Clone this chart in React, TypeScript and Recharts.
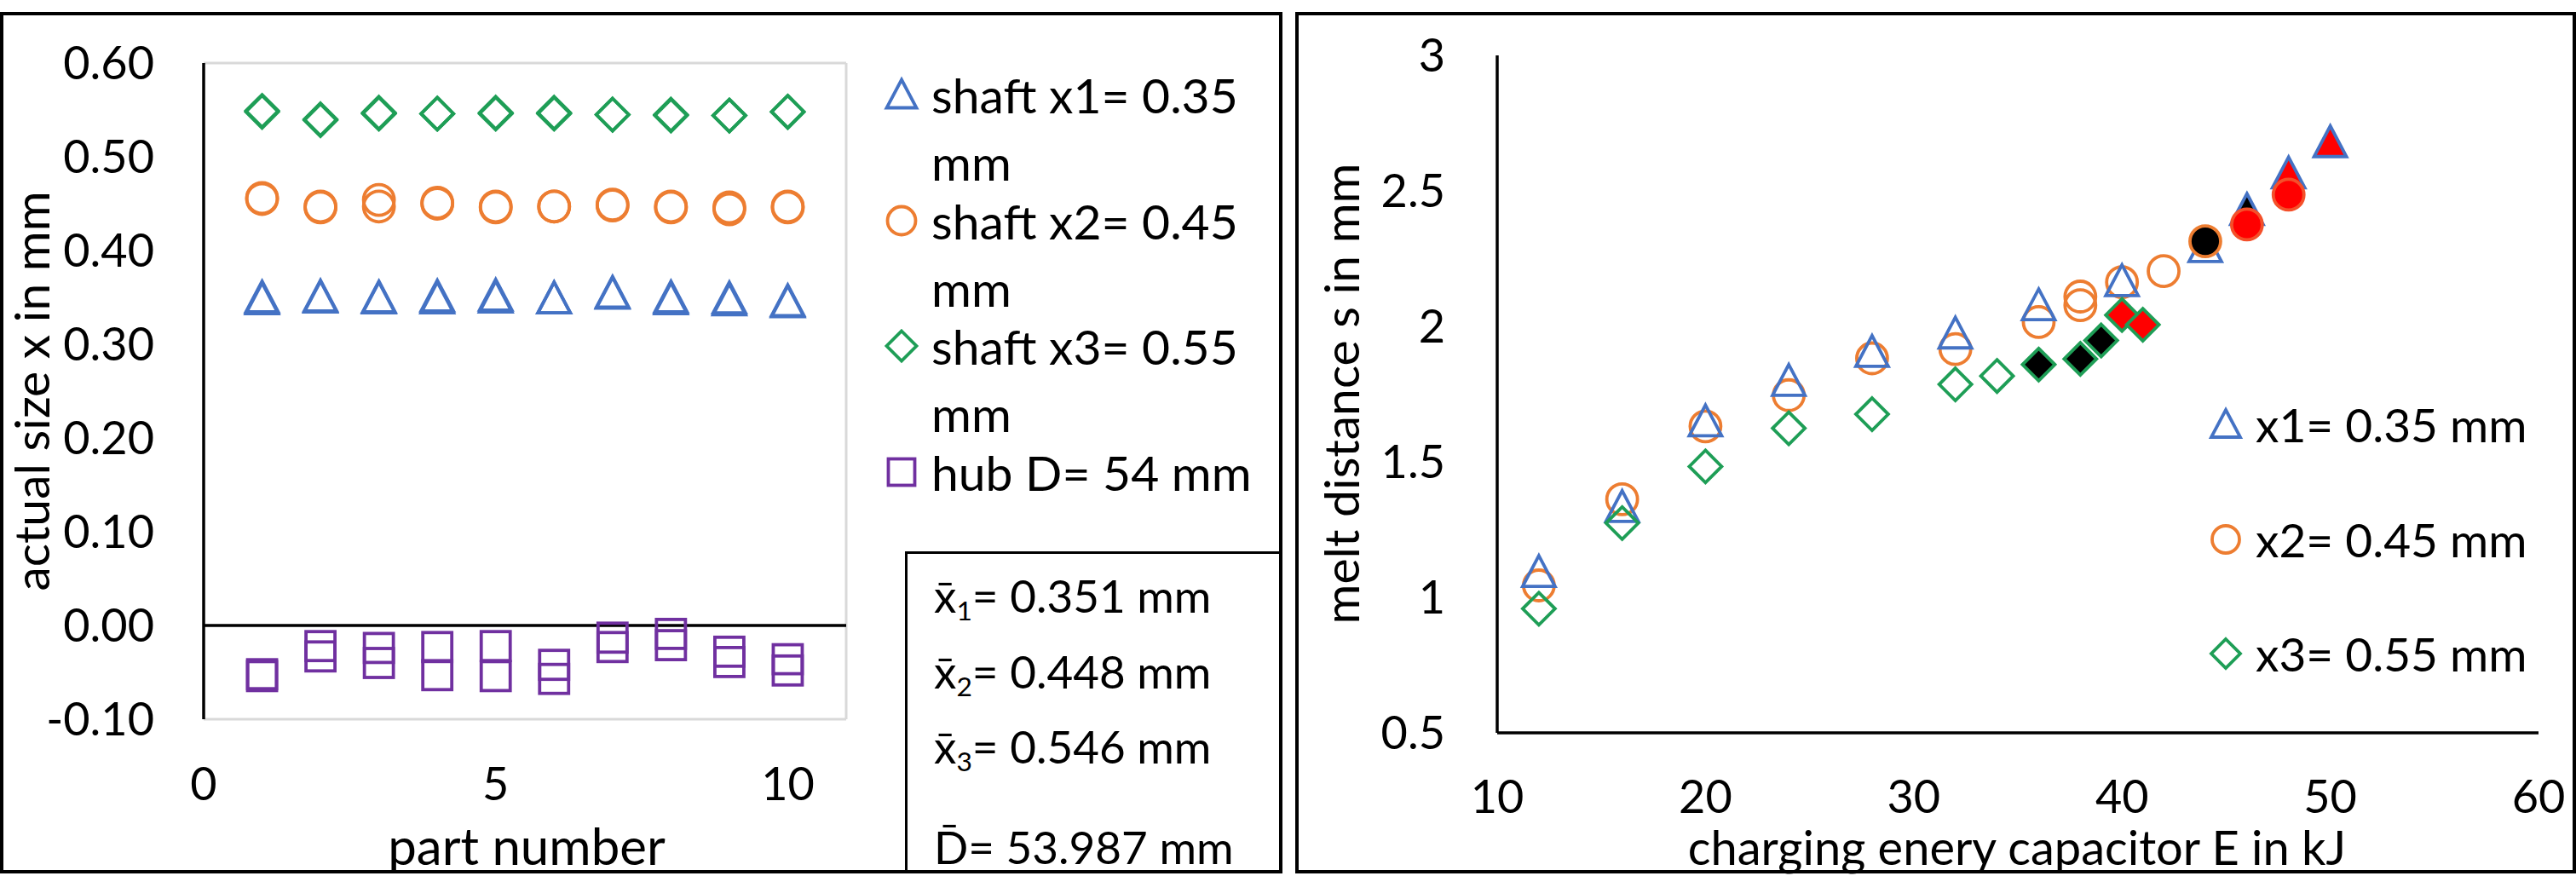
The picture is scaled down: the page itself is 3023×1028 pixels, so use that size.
import React from 'react'
import { ScatterChart, Scatter, XAxis, YAxis, ReferenceLine } from 'recharts'

const FONT = 'Lato, "Open Sans", sans-serif'
const BLUE = '#4472c4'
const ORANGE = '#ed7d31'
const GREEN = '#1e9e56'
const PURPLE = '#7030a0'
const RED = '#ff0000'
const BLACK = '#000000'

// left chart: actual size per part number, two readings per part
const partNumbers = [1, 2, 3, 4, 5, 6, 7, 8, 9, 10]
const shaftX1A = [0.350, 0.351, 0.350, 0.351, 0.352, 0.349, 0.355, 0.350, 0.349, 0.346]
const shaftX1B = [0.348, 0.350, 0.349, 0.349, 0.350, 0.349, 0.354, 0.348, 0.347, 0.345]
const shaftX2A = [0.456, 0.447, 0.454, 0.451, 0.447, 0.447, 0.449, 0.447, 0.446, 0.447]
const shaftX2B = [0.455, 0.446, 0.447, 0.450, 0.446, 0.447, 0.448, 0.446, 0.444, 0.446]
const shaftX3A = [0.549, 0.540, 0.547, 0.546, 0.547, 0.547, 0.545, 0.545, 0.544, 0.548]
const shaftX3B = [0.548, 0.539, 0.546, 0.546, 0.546, 0.546, 0.545, 0.544, 0.544, 0.548]
// hub: deviation from D = 54 mm
const hubA = [-0.052, -0.022, -0.024, -0.023, -0.022, -0.042, -0.013, -0.009, -0.028, -0.036]
const hubB = [-0.054, -0.033, -0.040, -0.053, -0.054, -0.057, -0.023, -0.021, -0.039, -0.048]

const leftXTicks = [0, 5, 10]
const leftYTicks = [-0.1, 0, 0.1, 0.2, 0.3, 0.4, 0.5, 0.6]

const leftLegend = [
  { kind: 'triangle', color: BLUE, lines: ['shaft x1= 0.35', 'mm'] },
  { kind: 'circle', color: ORANGE, lines: ['shaft x2= 0.45', 'mm'] },
  { kind: 'diamond', color: GREEN, lines: ['shaft x3= 0.55', 'mm'] },
  { kind: 'square', color: PURPLE, lines: ['hub D= 54 mm'] },
]
const meanLabels = [
  { sym: 'x', sub: '1', text: '= 0.351 mm' },
  { sym: 'x', sub: '2', text: '= 0.448 mm' },
  { sym: 'x', sub: '3', text: '= 0.546 mm' },
  { sym: 'D', sub: '', text: '= 53.987 mm' },
]

// right chart: melt distance vs charging energy
const x1Energy = [12, 16, 20, 24, 28, 32, 36, 40, 44]
const x1Melt = [1.094, 1.334, 1.650, 1.799, 1.906, 1.974, 2.078, 2.167, 2.293]
const x1BlackEnergy = [46]
const x1BlackMelt = [2.43]
const x1RedEnergy = [48, 50]
const x1RedMelt = [2.565, 2.68]

const x2Energy = [12, 16, 20, 24, 28, 32, 36, 38, 38, 40, 42]
const x2Melt = [1.044, 1.362, 1.631, 1.746, 1.882, 1.916, 2.016, 2.078, 2.110, 2.163, 2.204]
const x2BlackEnergy = [44]
const x2BlackMelt = [2.314]
const x2RedEnergy = [46, 48]
const x2RedMelt = [2.376, 2.486]

const x3Energy = [12, 16, 20, 24, 28, 32, 34]
const x3Melt = [0.958, 1.274, 1.483, 1.624, 1.676, 1.786, 1.817]
const x3BlackEnergy = [36, 38, 39]
const x3BlackMelt = [1.859, 1.880, 1.948]
const x3RedEnergy = [40, 41]
const x3RedMelt = [2.042, 2.006]

const rightXTicks = [10, 20, 30, 40, 50, 60]
const rightYTicks = [0.5, 1, 1.5, 2, 2.5, 3]

const rightLegend = [
  { kind: 'triangle', color: BLUE, label: 'x1= 0.35 mm' },
  { kind: 'circle', color: ORANGE, label: 'x2= 0.45 mm' },
  { kind: 'diamond', color: GREEN, label: 'x3= 0.55 mm' },
]

const pairs = (xs: number[], ys: number[]) => xs.map((x, i) => ({ x, y: ys[i] }))

function Marker({ cx, cy, kind, stroke, fill = 'none', size = 38 }: any) {
  if (cx == null || cy == null) return null
  const h = size / 2
  const sw = 3.8
  if (kind === 'triangle') {
    return <polygon points={`${cx},${cy - h} ${cx + h},${cy + h - 2} ${cx - h},${cy + h - 2}`} fill={fill} stroke={stroke} strokeWidth={sw} strokeLinejoin="miter" />
  }
  if (kind === 'circle') {
    return <circle cx={cx} cy={cy} r={h - 1} fill={fill} stroke={stroke} strokeWidth={sw} />
  }
  if (kind === 'diamond') {
    return <polygon points={`${cx},${cy - h} ${cx + h},${cy} ${cx},${cy + h} ${cx - h},${cy}`} fill={fill} stroke={stroke} strokeWidth={sw} />
  }
  return <rect x={cx - h + 2} y={cy - h + 2} width={size - 4} height={size - 4} fill={fill} stroke={stroke} strokeWidth={sw} />
}

const shape = (kind: string, stroke: string, fill = 'none') => (p: any) => (
  <Marker cx={p.cx} cy={p.cy} kind={kind} stroke={stroke} fill={fill} />
)

const tickStyle = { fontFamily: FONT, fontSize: 54, fill: '#000' }
const textStyle: React.CSSProperties = {
  position: 'absolute',
  fontFamily: FONT,
  fontSize: 54,
  lineHeight: 1,
  color: '#000',
  whiteSpace: 'nowrap',
}

function Txt({ x, y, size = 54, children }: any) {
  return <div style={{ ...textStyle, fontSize: size, left: x, top: y, transform: 'translateY(-50%)' }}>{children}</div>
}

function Title({ x, y, rotate, size = 58, children }: any) {
  return (
    <div style={{ ...textStyle, fontSize: size, left: x, top: y, transform: `translate(-50%,-50%)${rotate ? ' rotate(-90deg)' : ''}` }}>
      {children}
    </div>
  )
}

function LegendMark({ x, y, kind, color, size = 33 }: any) {
  return (
    <svg width={48} height={48} style={{ position: 'absolute', left: x - 24, top: y - 24 }}>
      <Marker cx={24} cy={24} kind={kind} stroke={color} size={size} />
    </svg>
  )
}

export default function App() {
  const leftRows: { y: number; text: string; mark?: any }[] = []
  const leftRowY = [111, 190, 259, 338, 406, 485, 554]
  let r = 0
  leftLegend.forEach(item => {
    item.lines.forEach((line, j) => {
      leftRows.push({ y: leftRowY[r++], text: line, mark: j === 0 ? item : undefined })
    })
  })
  const meanY = [698, 787, 875, 993]
  const rightRowY = [498, 633, 767]

  return (
    <div style={{ position: 'absolute', left: 0, top: 0, width: 3023, height: 1028, background: '#fff', overflow: 'hidden' }}>
      {/* left panel */}
      <div style={{ position: 'absolute', left: 0, top: 0 }}>
        <ScatterChart width={1505} height={1028} margin={{ top: 74, right: 512, bottom: 0, left: 0 }}>
          <XAxis
            type="number"
            dataKey="x"
            domain={[0, 11]}
            ticks={leftXTicks}
            interval={0}
            axisLine={false}
            tickLine={false}
            tickSize={0}
            tickMargin={57}
            height={184}
            tick={tickStyle}
          />
          <YAxis
            type="number"
            dataKey="y"
            domain={[-0.1, 0.6]}
            ticks={leftYTicks}
            interval={0}
            width={239}
            axisLine={{ stroke: '#000', strokeWidth: 3.5 }}
            tickLine={false}
            tickSize={0}
            tickMargin={58}
            tickFormatter={(v: number) => v.toFixed(2)}
            tick={tickStyle}
          />
          <ReferenceLine y={0.6} stroke="#d9d9d9" strokeWidth={3} />
          <ReferenceLine y={-0.1} stroke="#d9d9d9" strokeWidth={3} />
          <ReferenceLine x={11} stroke="#d9d9d9" strokeWidth={3} />
          <ReferenceLine y={0} stroke="#000" strokeWidth={3.5} />
          <Scatter data={pairs(partNumbers, hubA)} shape={shape('square', PURPLE)} isAnimationActive={false} />
          <Scatter data={pairs(partNumbers, hubB)} shape={shape('square', PURPLE)} isAnimationActive={false} />
          <Scatter data={pairs(partNumbers, shaftX1A)} shape={shape('triangle', BLUE)} isAnimationActive={false} />
          <Scatter data={pairs(partNumbers, shaftX1B)} shape={shape('triangle', BLUE)} isAnimationActive={false} />
          <Scatter data={pairs(partNumbers, shaftX2A)} shape={shape('circle', ORANGE)} isAnimationActive={false} />
          <Scatter data={pairs(partNumbers, shaftX2B)} shape={shape('circle', ORANGE)} isAnimationActive={false} />
          <Scatter data={pairs(partNumbers, shaftX3A)} shape={shape('diamond', GREEN)} isAnimationActive={false} />
          <Scatter data={pairs(partNumbers, shaftX3B)} shape={shape('diamond', GREEN)} isAnimationActive={false} />
        </ScatterChart>
      </div>
      <Title x={36} y={459} size={57} rotate>actual size x in mm</Title>
      <Title x={618} y={992} size={60}>part number</Title>
      {leftRows.map((row, i) => (
        <React.Fragment key={i}>
          {row.mark && <LegendMark x={1058} y={row.y} kind={row.mark.kind} color={row.mark.color} size={35} />}
          <Txt x={1093} y={row.y} size={57}>{row.text}</Txt>
        </React.Fragment>
      ))}
      <div style={{ position: 'absolute', left: 1062, top: 647, width: 443, height: 378, borderLeft: '3px solid #000', borderTop: '3px solid #000', boxSizing: 'border-box' }} />
      {meanLabels.map((m, i) => (
        <Txt key={i} x={1096} y={meanY[i]} size={53}>
          {m.sym + '\u0304'}
          {m.sub && <sub style={{ fontSize: '0.6em', verticalAlign: '-0.3em', lineHeight: 0 }}>{m.sub}</sub>}
          {m.text}
        </Txt>
      ))}
      <div style={{ position: 'absolute', left: 0, top: 14, width: 1505, height: 1011, border: '4px solid #000', boxSizing: 'border-box' }} />

      {/* right panel */}
      <div style={{ position: 'absolute', left: 1520, top: 0 }}>
        <ScatterChart width={1503} height={1028} margin={{ top: 65, right: 44, bottom: 0, left: 0 }}>
          <XAxis
            type="number"
            dataKey="x"
            domain={[10, 60]}
            ticks={rightXTicks}
            interval={0}
            axisLine={{ stroke: '#000', strokeWidth: 3.5 }}
            tickLine={false}
            tickSize={0}
            tickMargin={56}
            height={168}
            tick={tickStyle}
          />
          <YAxis
            type="number"
            dataKey="y"
            domain={[0.5, 3]}
            ticks={rightYTicks}
            interval={0}
            width={237}
            axisLine={{ stroke: '#000', strokeWidth: 3.5 }}
            tickLine={false}
            tickSize={0}
            tickMargin={61}
            tick={tickStyle}
          />
          <Scatter data={pairs(x2Energy, x2Melt)} shape={shape('circle', ORANGE)} isAnimationActive={false} />
          <Scatter data={pairs(x1Energy, x1Melt)} shape={shape('triangle', BLUE)} isAnimationActive={false} />
          <Scatter data={pairs(x3Energy, x3Melt)} shape={shape('diamond', GREEN)} isAnimationActive={false} />
          <Scatter data={pairs(x1BlackEnergy, x1BlackMelt)} shape={shape('triangle', BLUE, BLACK)} isAnimationActive={false} />
          <Scatter data={pairs(x1RedEnergy, x1RedMelt)} shape={shape('triangle', BLUE, RED)} isAnimationActive={false} />
          <Scatter data={pairs(x2BlackEnergy, x2BlackMelt)} shape={shape('circle', ORANGE, BLACK)} isAnimationActive={false} />
          <Scatter data={pairs(x2RedEnergy, x2RedMelt)} shape={shape('circle', '#f4502a', RED)} isAnimationActive={false} />
          <Scatter data={pairs(x3BlackEnergy, x3BlackMelt)} shape={shape('diamond', GREEN, BLACK)} isAnimationActive={false} />
          <Scatter data={pairs(x3RedEnergy, x3RedMelt)} shape={shape('diamond', GREEN, RED)} isAnimationActive={false} />
        </ScatterChart>
      </div>
      <Title x={1573} y={462} size={57} rotate>melt distance s in mm</Title>
      <Title x={2367} y={994} size={56}>charging enery capacitor E in kJ</Title>
      {rightLegend.map((item, i) => (
        <React.Fragment key={i}>
          <LegendMark x={2612} y={rightRowY[i]} kind={item.kind} color={item.color} size={34} />
          <Txt x={2647} y={rightRowY[i]} size={55}>{item.label}</Txt>
        </React.Fragment>
      ))}
      <div style={{ position: 'absolute', left: 1520, top: 14, width: 1503, height: 1011, border: '4px solid #000', boxSizing: 'border-box' }} />
    </div>
  )
}
